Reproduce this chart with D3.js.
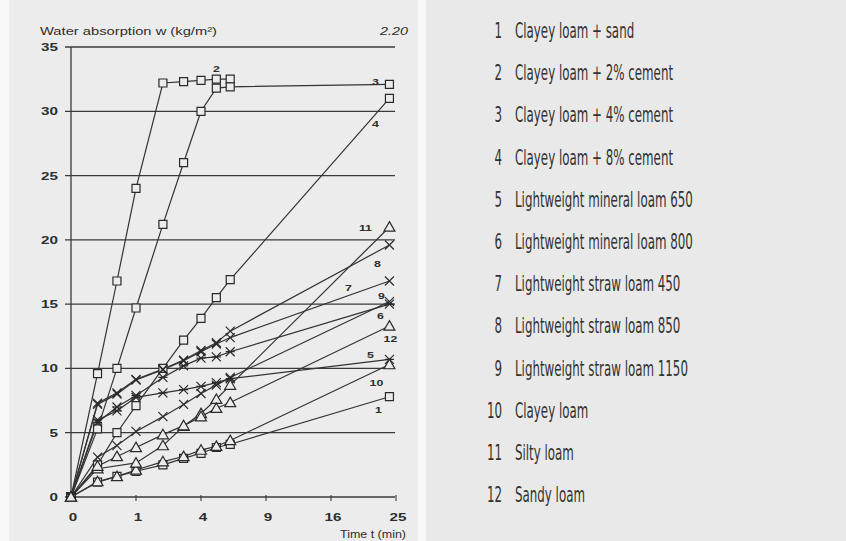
<!DOCTYPE html>
<html>
<head>
<meta charset="utf-8">
<script src="https://cdn.jsdelivr.net/npm/d3@7"></script>
<style>
  html, body { margin: 0; padding: 0; background: #f8f8f8; }
  svg { display: block; }
</style>
</head>
<body>
<svg id="chart" width="846" height="541"></svg>
<script>
// Measurement times (min): 10 s, 30 s, 1..6 min, 24 min
const times = [0, 1/6, 0.5, 1, 2, 3, 4, 5, 6, 24];

// Water absorption w (kg/m²) per material; null = no reading
const s1  = [0, 1.15, 1.6, 2.0, 2.5, 3.0, 3.4, 3.85, 4.1, 7.8];
const s2  = [0, 9.6, 16.8, 24.0, 32.2, 32.3, 32.4, 32.5, 32.5, null];
const s3  = [0, 5.3, 10.0, 14.7, 21.2, 26.0, 30.0, 31.8, 31.9, 32.1];
const s4  = [0, 2.5, 5.0, 7.1, 10.0, 12.2, 13.9, 15.5, 16.9, 31.0];
const s5  = [0, 6.0, 6.7, 7.75, 8.1, 8.35, 8.6, 8.9, 9.2, 10.7];
const s6  = [0, 5.8, 7.0, 7.9, 9.3, 10.2, 10.8, 10.9, 11.3, 15.0];
const s7  = [0, 7.2, 8.0, 9.1, 9.9, 10.6, 11.3, 11.9, 12.4, 16.8];
const s8  = [0, 7.3, 8.1, 9.15, 9.95, 10.65, 11.4, 12.0, 12.9, 19.6];
const s9  = [0, 3.1, 4.0, 5.1, 6.25, 7.2, 8.05, 8.7, 9.3, 15.2];
const s10 = [0, 1.2, 1.6, 2.1, 2.75, 3.15, 3.65, 3.95, 4.4, 10.3];
const s11 = [0, 2.2, null, 2.65, 4.0, 5.5, 6.5, 7.6, 8.7, 21.0];
const s12 = [0, 2.4, 3.15, 3.85, 4.85, 5.55, 6.25, 6.9, 7.35, 13.3];

const seriesValues = [s1, s2, s3, s4, s5, s6, s7, s8, s9, s10, s11, s12];
const seriesNames = [
  "Clayey loam + sand",
  "Clayey loam + 2% cement",
  "Clayey loam + 4% cement",
  "Clayey loam + 8% cement",
  "Lightweight mineral loam 650",
  "Lightweight mineral loam 800",
  "Lightweight straw loam 450",
  "Lightweight straw loam 850",
  "Lightweight straw loam 1150",
  "Clayey loam",
  "Silty loam",
  "Sandy loam"
];
const seriesMarkers = ["square", "square", "square", "square",
  "asterisk", "asterisk", "cross", "cross", "cross",
  "triangle", "triangle", "triangle"];

const xTicks = [0, 1, 4, 9, 16, 25];
const yTicks = [0, 5, 10, 15, 20, 25, 30, 35];

const ink = "#2e2e2e";
const panelFill = "#ececec";

const svg = d3.select("#chart");

// page panels
svg.append("rect").attr("x", 9).attr("y", 0).attr("width", 409).attr("height", 541).attr("fill", panelFill);
svg.append("rect").attr("x", 426).attr("y", 0).attr("width", 420).attr("height", 541).attr("fill", "#e9e9e9");

const x = d3.scalePow().exponent(0.5).domain([0, 25]).range([71, 396]);
const y = d3.scaleLinear().domain([0, 35]).range([497, 47]);

const stretched = (sel, sx) => sel.attr("transform", function () {
  const tx = +this.getAttribute("data-x"), ty = +this.getAttribute("data-y");
  return `translate(${tx},${ty}) scale(${sx},1)`;
});

// horizontal grid lines with short stubs left of the axis
svg.append("g").selectAll("line").data(yTicks).join("line")
  .attr("x1", x(0) - 6).attr("x2", x(25) - 1)
  .attr("y1", d => y(d)).attr("y2", d => y(d))
  .attr("stroke", "#3a3a3a").attr("stroke-width", 1.3);

// vertical axis
svg.append("line").attr("x1", x(0)).attr("x2", x(0))
  .attr("y1", y(35)).attr("y2", y(0))
  .attr("stroke", "#3a3a3a").attr("stroke-width", 1.3);

// x ticks on the time axis
svg.append("g").selectAll("line").data(xTicks.slice(1)).join("line")
  .attr("x1", d => x(d)).attr("x2", d => x(d))
  .attr("y1", y(0) - 2).attr("y2", y(0) + 4)
  .attr("stroke", "#3a3a3a").attr("stroke-width", 1.1);

// y tick labels
svg.append("g").selectAll("text").data(yTicks).join("text")
  .attr("data-x", 58).attr("data-y", d => y(d) + 4)
  .attr("text-anchor", "end")
  .attr("font-family", "Liberation Sans, Arial, sans-serif")
  .attr("font-size", 10.5).attr("font-weight", "bold").attr("fill", ink)
  .text(d => d)
  .call(stretched, 1.45);

// x tick labels
svg.append("g").selectAll("text").data(xTicks).join("text")
  .attr("data-x", d => x(d) + 2).attr("data-y", 521)
  .attr("text-anchor", "middle")
  .attr("font-family", "Liberation Sans, Arial, sans-serif")
  .attr("font-size", 10.5).attr("font-weight", "bold").attr("fill", ink)
  .text(d => d)
  .call(stretched, 1.45);

// titles
svg.append("text").attr("x", 40).attr("y", 35)
  .attr("font-family", "Liberation Sans, Arial, sans-serif")
  .attr("font-size", 11).attr("fill", ink)
  .attr("textLength", 177).attr("lengthAdjust", "spacingAndGlyphs")
  .text("Water absorption w (kg/m²)");
svg.append("text").attr("x", 408).attr("y", 35).attr("text-anchor", "end")
  .attr("font-family", "Liberation Sans, Arial, sans-serif")
  .attr("font-size", 11).attr("font-style", "italic").attr("fill", ink)
  .attr("textLength", 28).attr("lengthAdjust", "spacingAndGlyphs")
  .text("2.20");
svg.append("text").attr("x", 406).attr("y", 538).attr("text-anchor", "end")
  .attr("font-family", "Liberation Sans, Arial, sans-serif")
  .attr("font-size", 11).attr("fill", ink)
  .attr("textLength", 66).attr("lengthAdjust", "spacingAndGlyphs")
  .text("Time t (min)");

// series lines
const seriesData = seriesValues.map((vals, i) => ({
  id: i + 1,
  marker: seriesMarkers[i],
  points: vals.map((v, j) => ({ t: times[j], v })).filter(p => p.v !== null)
}));

const line = d3.line().x(p => x(p.t)).y(p => y(p.v));
svg.append("g").selectAll("path").data(seriesData).join("path")
  .attr("d", d => line(d.points))
  .attr("fill", "none").attr("stroke", "#333").attr("stroke-width", 1.2);

// markers
const markerPath = {
  square: d3.symbol(d3.symbolSquare, 64)(),
  triangle: d3.symbol(d3.symbolTriangle, 52)(),
  cross: "M-4.5,-4.5L4.5,4.5M-4.5,4.5L4.5,-4.5",
  asterisk: "M-4.5,-4.5L4.5,4.5M-4.5,4.5L4.5,-4.5M-4.5,0L4.5,0"
};
const mk = svg.append("g");
seriesData.forEach(s => {
  mk.append("g").selectAll("path").data(s.points).join("path")
    .attr("transform", p => `translate(${x(p.t)},${y(p.v) + (s.marker === "triangle" ? 1 : 0)})`)
    .attr("d", markerPath[s.marker])
    .attr("fill", (s.marker === "square" || s.marker === "triangle") ? panelFill : "none")
    .attr("stroke", "#2a2a2a").attr("stroke-width", 1.2);
});

// series number labels, placed relative to a chosen point of each series
const labelAnchor = [
  { id: 1, at: 24, dx: -11, dy: 16 },
  { id: 2, at: 5, dx: 0, dy: -7 },
  { id: 3, at: 24, dx: -14, dy: 1 },
  { id: 4, at: 24, dx: -14, dy: 29 },
  { id: 5, at: 24, dx: -19, dy: -1 },
  { id: 6, at: 24, dx: -9, dy: 15 },
  { id: 7, at: 24, dx: -41, dy: 10 },
  { id: 8, at: 24, dx: -12, dy: 22 },
  { id: 9, at: 24, dx: -8, dy: -3 },
  { id: 10, at: 24, dx: -13, dy: 21 },
  { id: 11, at: 24, dx: -24, dy: 4 },
  { id: 12, at: 24, dx: 1, dy: 16 }
];
svg.append("g").selectAll("text").data(labelAnchor).join("text")
  .attr("data-x", d => x(d.at) + d.dx)
  .attr("data-y", d => {
    const p = seriesData[d.id - 1].points.find(q => q.t === d.at);
    return y(p.v) + d.dy;
  })
  .attr("text-anchor", "middle")
  .attr("font-family", "Liberation Sans, Arial, sans-serif")
  .attr("font-size", 9.5).attr("font-weight", "bold").attr("fill", ink)
  .text(d => d.id)
  .call(stretched, 1.3);

// legend
const legend = svg.append("g");
const rowY = i => 38 + i * 42.2;
const legendFont = "'Liberation Sans Narrow', 'DejaVu Sans Condensed', 'Liberation Sans', sans-serif";
const numG = legend.append("g");
const txtG = legend.append("g");
numG.selectAll("text").data(seriesNames).join("text")
  .attr("x", 0).attr("y", (d, i) => rowY(i))
  .attr("text-anchor", "end")
  .attr("font-family", legendFont).attr("font-size", 22).attr("fill", "#333")
  .text((d, i) => i + 1);
txtG.selectAll("text").data(seriesNames).join("text")
  .attr("x", 0).attr("y", (d, i) => rowY(i))
  .attr("font-family", legendFont).attr("font-size", 22).attr("fill", "#333")
  .text(d => d);
// squeeze the condensed legend type so the longest name spans its column
const longest = txtG.selectAll("text").nodes()[8].getComputedTextLength();
const sx = 173 / longest;
numG.attr("transform", `translate(502,0) scale(${sx},1)`);
txtG.attr("transform", `translate(515,0) scale(${sx},1)`);
</script>
</body>
</html>
